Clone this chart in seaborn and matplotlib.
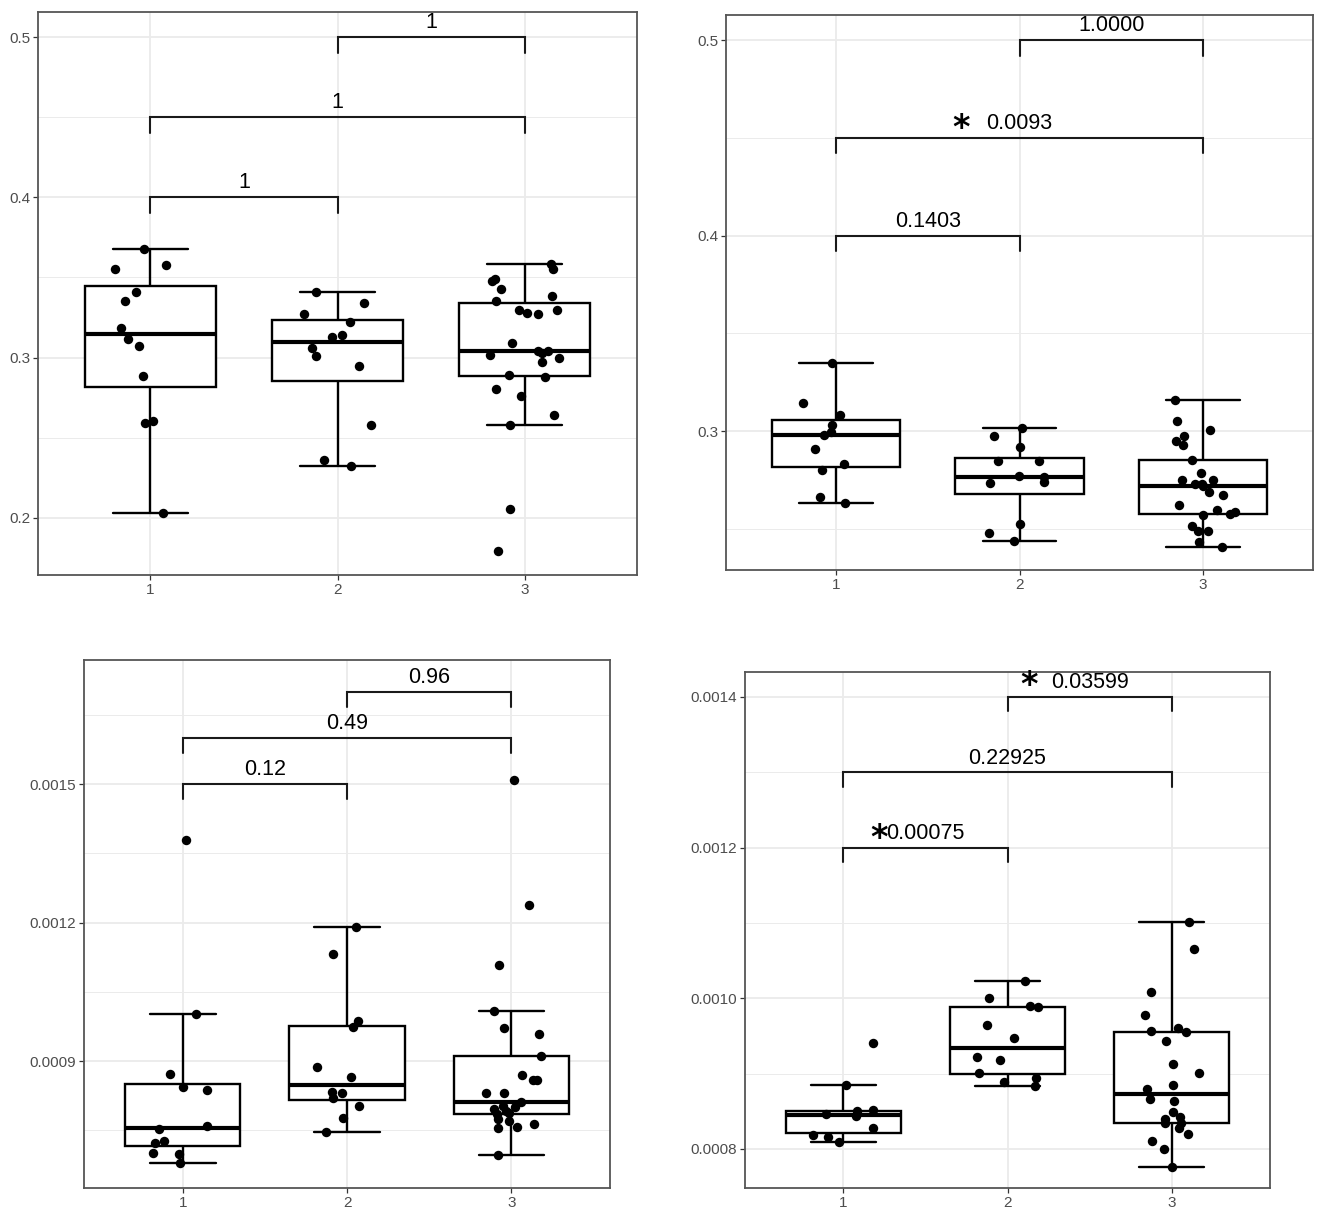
import numpy as np
import pandas as pd
import matplotlib
matplotlib.use("Agg")
import matplotlib.pyplot as plt
import seaborn as sns

W, H = 1325, 1219
groups = ["1", "2", "3"]

# Panel A (oben links)
a_g1 = [0.3676, 0.3579, 0.3552, 0.3412, 0.3354, 0.3182, 0.3116, 0.3073, 0.2886, 0.2605, 0.2595, 0.2031]
a_g2 = [0.3407, 0.3342, 0.3274, 0.3223, 0.3131, 0.3141, 0.3058, 0.3010, 0.2949, 0.2578, 0.2360, 0.2322]
a_g3 = [0.3586, 0.3552, 0.3489, 0.3475, 0.3429, 0.3383, 0.3356, 0.3298, 0.3300, 0.3281, 0.3274, 0.3090, 0.3044,
        0.3044, 0.3019, 0.3031, 0.2995, 0.2971, 0.2891, 0.2881, 0.2806, 0.2758, 0.2641, 0.2578, 0.2055, 0.1796]
a_ticks = [0.2, 0.3, 0.4, 0.5]
a_ticklabels = ["0.2", "0.3", "0.4", "0.5"]
a_minor = [0.25, 0.35, 0.45]
a_pairs = [(1, 2, 0.40, "1"), (1, 3, 0.45, "1"), (2, 3, 0.50, "1")]

# Panel B (oben rechts)
b_g1 = [0.3350, 0.3143, 0.3082, 0.3030, 0.2994, 0.2980, 0.2908, 0.2829, 0.2800, 0.2660, 0.2632]
b_g2 = [0.3014, 0.2974, 0.2918, 0.2845, 0.2845, 0.2765, 0.2769, 0.2739, 0.2733, 0.2522, 0.2477, 0.2439]
b_g3 = [0.3157, 0.3050, 0.3004, 0.2974, 0.2950, 0.2928, 0.2851, 0.2787, 0.2749, 0.2749, 0.2729, 0.2719, 0.2729,
        0.2674, 0.2688, 0.2622, 0.2598, 0.2586, 0.2570, 0.2574, 0.2516, 0.2489, 0.2487, 0.2431, 0.2407]
b_ticks = [0.3, 0.4, 0.5]
b_ticklabels = ["0.3", "0.4", "0.5"]
b_minor = [0.25, 0.35, 0.45]
b_pairs = [(1, 2, 0.40, "0.1403"), (1, 3, 0.45, "0.0093"), (2, 3, 0.50, "1.0000")]

# Panel C (unten links)
c_g1 = [0.001380, 0.001002, 0.000873, 0.000844, 0.000837, 0.000760, 0.000752, 0.000726, 0.000722, 0.000699,
        0.000700, 0.000679]
c_g2 = [0.001191, 0.001133, 0.000986, 0.000974, 0.000888, 0.000865, 0.000833, 0.000831, 0.000819, 0.000803,
        0.000777, 0.000746]
c_g3 = [0.001509, 0.001239, 0.001108, 0.001008, 0.000972, 0.000958, 0.000910, 0.000870, 0.000858, 0.000859,
        0.000830, 0.000831, 0.000811, 0.000800, 0.000803, 0.000797, 0.000792, 0.000788, 0.000785, 0.000775,
        0.000770, 0.000763, 0.000757, 0.000756, 0.000697]
c_ticks = [0.0009, 0.0012, 0.0015]
c_ticklabels = ["0.0009", "0.0012", "0.0015"]
c_minor = [0.00075, 0.00105, 0.00135, 0.00165]
c_pairs = [(1, 2, 0.0015, "0.12"), (1, 3, 0.0016, "0.49"), (2, 3, 0.0017, "0.96")]

# Panel D (unten rechts)
d_g1 = [0.000941, 0.000885, 0.000851, 0.000850, 0.000844, 0.000846, 0.000828, 0.000818, 0.000816, 0.000809]
d_g2 = [0.001023, 0.001000, 0.000989, 0.000988, 0.000965, 0.000947, 0.000922, 0.000918, 0.000901, 0.000894,
        0.000889, 0.000884]
d_g3 = [0.001101, 0.001065, 0.001008, 0.000978, 0.000960, 0.000956, 0.000955, 0.000943, 0.000913, 0.000901,
        0.000885, 0.000880, 0.000866, 0.000864, 0.000849, 0.000842, 0.000840, 0.000834, 0.000834, 0.000827,
        0.000820, 0.000811, 0.000800, 0.000776]
d_ticks = [0.0008, 0.0010, 0.0012, 0.0014]
d_ticklabels = ["0.0008", "0.0010", "0.0012", "0.0014"]
d_minor = [0.0009, 0.0011, 0.0013]
d_pairs = [(1, 2, 0.0012, "0.00075"), (1, 3, 0.0013, "0.22925"), (2, 3, 0.0014, "0.03599")]

sns.set_theme(style="white")
plt.rcParams["font.family"] = ["Liberation Sans", "DejaVu Sans"]

fig = plt.figure(figsize=(W / 100, H / 100), dpi=100)


def rect(l, r, t, b):
    return [l / W, 1 - b / H, (r - l) / W, (b - t) / H]


def panel(box, g1, g2, g3, ylim, ticks, ticklabels, minor, pairs, tip, stars, seed):
    ax = fig.add_axes(box)
    df = pd.DataFrame({
        "group": ["1"] * len(g1) + ["2"] * len(g2) + ["3"] * len(g3),
        "value": g1 + g2 + g3,
    })
    # Gitter wie bei theme_bw
    for y in minor:
        ax.axhline(y, color="#EBEBEB", lw=0.7, zorder=0)
    for y in ticks:
        ax.axhline(y, color="#EBEBEB", lw=1.3, zorder=0)
    for x in range(3):
        ax.axvline(x, color="#EBEBEB", lw=1.3, zorder=0)

    sns.boxplot(data=df, x="group", y="value", order=groups, ax=ax, width=0.7,
                color="white", linecolor="black", linewidth=1.7, showfliers=False,
                medianprops={"linewidth": 3.0}, capwidths=0.4, zorder=2)
    np.random.seed(seed)
    sns.stripplot(data=df, x="group", y="value", order=groups, ax=ax, jitter=0.19,
                  color="black", size=6.8, linewidth=0, zorder=3)

    for i, j, y, label in pairs:
        x1, x2 = i - 1, j - 1
        ax.plot([x1, x1, x2, x2], [y - tip, y, y, y - tip], color="#1a1a1a", lw=1.5,
                solid_joinstyle="miter", zorder=4)
        ax.text((x1 + x2) / 2, y + tip * 0.25, label, ha="center", va="bottom",
                fontsize=15.5, color="black")
    for sx, sy in stars:
        ax.text(sx, sy, "*", ha="center", va="center", fontsize=24,
                fontweight="bold", color="black", family="DejaVu Sans")

    ax.set_xlim(-0.6, 2.6)
    ax.set_ylim(*ylim)
    ax.set_yticks(ticks)
    ax.set_yticklabels(ticklabels)
    ax.set_xlabel("")
    ax.set_ylabel("")
    ax.grid(False)
    for s in ax.spines.values():
        s.set_color("#555555")
        s.set_linewidth(1.3)
    ax.tick_params(axis="both", length=3.5, width=0.9, color="#333333",
                   labelcolor="#4D4D4D", labelsize=11, pad=2, left=True, bottom=True)
    return ax


panel(rect(38, 637, 12, 575), a_g1, a_g2, a_g3, (0.1644, 0.5156),
      a_ticks, a_ticklabels, a_minor, a_pairs, 0.01, [], 1)
panel(rect(726, 1313, 15, 570), b_g1, b_g2, b_g3, (0.2289, 0.5128),
      b_ticks, b_ticklabels, b_minor, b_pairs, 0.008, [(0.68, 0.4545)], 2)
panel(rect(84, 610, 660, 1188), c_g1, c_g2, c_g3, (0.000625, 0.001769),
      c_ticks, c_ticklabels, c_minor, c_pairs, 0.000032, [], 3)
panel(rect(745, 1270, 672, 1188), d_g1, d_g2, d_g3, (0.000748, 0.001433),
      d_ticks, d_ticklabels, d_minor, d_pairs, 0.0000193,
      [(0.22, 0.001212), (1.13, 0.001415)], 4)

fig.savefig("out.png", dpi=100, facecolor="white")
